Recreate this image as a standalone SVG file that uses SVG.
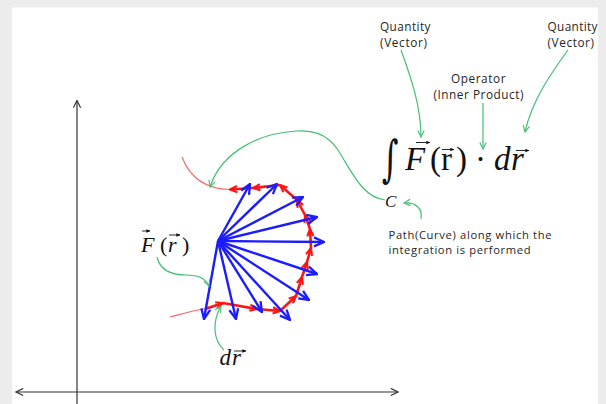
<svg xmlns="http://www.w3.org/2000/svg" width="606" height="404" viewBox="0 0 606 404">
<style>
.lbl{font-family:"Open Sans","Liberation Sans",sans-serif;font-size:11.8px;fill:#262626}
.lbs{font-family:"Open Sans","Liberation Sans",sans-serif;font-size:11.2px;fill:#262626}
.math{font-family:"Liberation Serif","Times New Roman",serif;fill:#111}
.it{font-style:italic}
.gr{fill:none;stroke:#45bf74;stroke-width:1.2;marker-end:url(#ga)}
.bl{fill:none;stroke:#1c1cff;stroke-width:2.4;marker-end:url(#ba)}
.rd{fill:none;stroke:#ff1414;stroke-width:2.6;marker-end:url(#ra)}
.tail{fill:none;stroke:#f26a6a;stroke-width:1.2}
.ax{fill:none;stroke:#333;stroke-width:1.2}
.vec{stroke:#111;stroke-width:0.9;fill:none}
</style>
<defs>
<marker id="ga" viewBox="0 0 10 10" refX="9" refY="5" markerWidth="8" markerHeight="8" markerUnits="userSpaceOnUse" orient="auto"><path d="M1,1 L9,5 L1,9" fill="none" stroke="#45bf74" stroke-width="1.4"/></marker>
<marker id="ba" viewBox="0 0 12 12" refX="11" refY="6" markerWidth="12" markerHeight="12" markerUnits="userSpaceOnUse" orient="auto"><path d="M1,1.5 L11,6 L1,10.5" fill="none" stroke="#1c1cff" stroke-width="2.3"/></marker>
<marker id="ra" viewBox="0 0 10 10" refX="9" refY="5" markerWidth="9" markerHeight="9" markerUnits="userSpaceOnUse" orient="auto"><path d="M1,1.5 L9,5 L1,8.5" fill="none" stroke="#ff1414" stroke-width="2.3"/></marker>
<marker id="aa" viewBox="0 0 10 10" refX="9" refY="5" markerWidth="9" markerHeight="9" markerUnits="userSpaceOnUse" orient="auto-start-reverse"><path d="M1,1 L9,5 L1,9" fill="none" stroke="#333" stroke-width="1.3"/></marker>
<marker id="va" viewBox="0 0 6 6" refX="5.5" refY="3" markerWidth="4" markerHeight="4" markerUnits="userSpaceOnUse" orient="auto"><path d="M0,0.5 L6,3 L0,5.5 Z" fill="#111"/></marker>
</defs>
<rect x="0" y="0" width="606" height="404" fill="#ececec"/>
<rect x="12" y="7.5" width="586" height="397" fill="#fff"/>

<g id="axes">
<path class="ax" d="M77,404 L77,100.5" marker-end="url(#aa)"/>
<path class="ax" d="M16,392 L398,392" marker-start="url(#aa)" marker-end="url(#aa)"/>
</g>

<g id="curve-C">
<path class="tail" d="M182,157 C190,178 205,189 230,189.5"/>
<path class="tail" d="M170,317 C185,313 195,310 206,308.5"/>
<path class="rd" d="M205,309 L223,303"/>
<path class="rd" d="M223,303 L257,309"/>
<path class="rd" d="M257,309 L280,311"/>
<path class="rd" d="M280,311 L296,296"/>
<path class="rd" d="M296,296 L302,277"/>
<path class="rd" d="M302,277 L307,262"/>
<path class="rd" d="M307,262 L311,248"/>
<path class="rd" d="M311,248 L310,229"/>
<path class="rd" d="M310,229 L305,215"/>
<path class="rd" d="M305,215 L297,200"/>
<path class="rd" d="M297,200 L280,185"/>
<path class="rd" d="M280,185 L253,188"/>
<path class="rd" d="M253,188 L230,189.5"/>
</g>

<g id="vector-field">
<path class="bl" d="M218,241 L250,184"/>
<path class="bl" d="M218,241 L277,184"/>
<path class="bl" d="M218,241 L303,197"/>
<path class="bl" d="M218,241 L317,217"/>
<path class="bl" d="M218,241 L324,242"/>
<path class="bl" d="M218,241 L317,274"/>
<path class="bl" d="M218,241 L309,300"/>
<path class="bl" d="M218,241 L290,320"/>
<path class="bl" d="M218,241 L262,312"/>
<path class="bl" d="M218,241 L236,319"/>
<path class="bl" d="M218,241 L204,319"/>
</g>

<g id="label-quantity-1">
<text class="lbl" x="380" y="31" textLength="50.5" lengthAdjust="spacing">Quantity</text>
<text class="lbl" x="380" y="47" textLength="47" lengthAdjust="spacing">(Vector)</text>
</g>
<g id="label-quantity-2">
<text class="lbl" x="547.5" y="31" textLength="50" lengthAdjust="spacing">Quantity</text>
<text class="lbl" x="547.5" y="47" textLength="46.5" lengthAdjust="spacing">(Vector)</text>
</g>
<g id="label-operator">
<text class="lbl" x="451" y="83" textLength="54.5" lengthAdjust="spacing">Operator</text>
<text class="lbl" x="433.5" y="99" textLength="90" lengthAdjust="spacing">(Inner Product)</text>
</g>
<g id="label-path">
<text class="lbs" x="388.5" y="239" textLength="163" lengthAdjust="spacing">Path(Curve) along which the</text>
<text class="lbs" x="388.5" y="254" textLength="142" lengthAdjust="spacing">integration is performed</text>
</g>

<g id="formula">
<text class="math" x="0" y="0" font-size="40" transform="translate(382,176) scale(0.8,1.25)" style="font-family:'DejaVu Serif',serif">∫</text>
<text class="math" font-size="33" y="170"><tspan class="it" x="405">F</tspan><tspan x="430">(</tspan><tspan x="441">r</tspan><tspan x="456">)</tspan><tspan x="475">·</tspan><tspan class="it" x="494">d</tspan><tspan class="it" x="511">r</tspan></text>
<path class="vec" d="M416,142.5 L430,142.5" marker-end="url(#va)"/>
<path class="vec" d="M442,149.5 L454,149.5" marker-end="url(#va)"/>
<path class="vec" d="M516,150.5 L529,150.5" marker-end="url(#va)"/>
<text class="math it" x="385" y="207" font-size="17">C</text>
</g>

<g id="label-F">
<text class="math" font-size="22" y="252"><tspan class="it" x="141">F</tspan><tspan x="160">(</tspan><tspan class="it" x="168">r</tspan><tspan x="182">)</tspan></text>
<path class="vec" d="M142,231 L150,231" marker-end="url(#va)"/>
<path class="vec" d="M169,235 L180,235" marker-end="url(#va)"/>
</g>

<g id="label-dr">
<text class="math it" font-size="23" y="365"><tspan x="219.5">d</tspan><tspan x="232">r</tspan></text>
<path class="vec" d="M234,351 L246,351" marker-end="url(#va)"/>
</g>

<g id="connectors">
<path class="gr" d="M401,50 C410,75 421,105 421,137"/>
<path class="gr" d="M483,103 L483,149"/>
<path class="gr" d="M568,50 C552,72 532,100 525,132"/>
<path class="gr" d="M385,200 C362,197 352,172 338,150 C326,132 310,130 296,131 C262,133 222,150 210,187"/>
<path class="gr" d="M421,219 C423,208 415,202 404,203"/>
<path class="gr" d="M157,257 C160,270 170,275 186,275 C198,275 206,278 209,286"/>
<path class="gr" d="M224,350 C213,340 212,322 221,306"/>
</g>
</svg>
